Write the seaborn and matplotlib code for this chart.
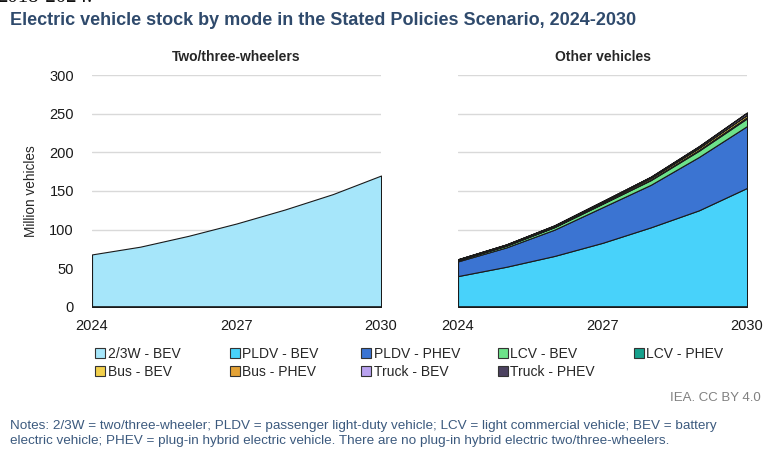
import matplotlib
matplotlib.use("Agg")
import matplotlib.pyplot as plt
import seaborn as sns
from matplotlib.patches import Patch

# data (million vehicles)
years = [2024, 2025, 2026, 2027, 2028, 2029, 2030]
w23_bev = [68, 78, 92, 108, 126, 146, 170]
pldv_bev = [40, 52, 66, 83, 103, 125, 154]
pldv_phev = [19, 25, 34, 46, 55, 69, 80]
lcv_bev = [1.5, 2.2, 3.2, 4.5, 6, 8, 10]
lcv_phev = [0.2, 0.3, 0.4, 0.6, 0.8, 1.1, 1.5]
bus_bev = [0.8, 1.0, 1.3, 1.7, 2.1, 2.6, 3.0]
bus_phev = [0.05, 0.07, 0.1, 0.15, 0.2, 0.25, 0.3]
truck_bev = [0.2, 0.3, 0.5, 0.8, 1.2, 1.8, 2.5]
truck_phev = [0.05, 0.07, 0.1, 0.15, 0.2, 0.25, 0.3]

labels = ["2/3W - BEV", "PLDV - BEV", "PLDV - PHEV", "LCV - BEV", "LCV - PHEV",
          "Bus - BEV", "Bus - PHEV", "Truck - BEV", "Truck - PHEV"]
colors = ["#a6e6fa", "#48d2fa", "#3b74d2", "#6de28a", "#16a08c",
          "#f2d04c", "#e3a236", "#b9a2ef", "#4c4260"]

sns.set_theme(style="white")
plt.rcParams["font.family"] = ["Liberation Sans", "DejaVu Sans"]

fig = plt.figure(figsize=(7.63, 4.51), dpi=100)
ax1 = fig.add_axes([0.1206, 0.3193, 0.3788, 0.5144])
ax2 = fig.add_axes([0.6003, 0.3193, 0.3788, 0.5144])

edge = dict(edgecolor="#1a1a1a", linewidth=0.8)
ax1.stackplot(years, w23_bev, colors=colors[:1], **edge)
ax2.stackplot(years, pldv_bev, pldv_phev, lcv_bev, lcv_phev, bus_bev,
              bus_phev, truck_bev, truck_phev, colors=colors[1:], **edge)

for ax, title in [(ax1, "Two/three-wheelers"), (ax2, "Other vehicles")]:
    ax.set_xlim(2024, 2030)
    ax.set_ylim(0, 300)
    ax.set_xticks([2024, 2027, 2030])
    ax.set_yticks(range(0, 301, 50))
    ax.grid(axis="y", color="#d9d9d9", linewidth=1)
    ax.set_axisbelow(True)
    for s in ax.spines.values():
        s.set_visible(False)
    ax.axhline(0, color="#1a1a1a", linewidth=1.2, zorder=5)
    ax.tick_params(axis="both", length=0, labelsize=10.5, colors="#1a1a1a")
    ax.tick_params(axis="x", pad=9)
    ax.tick_params(axis="y", pad=13)
    ax.set_title(title, fontsize=10, fontweight="bold", pad=10)

ax1.set_ylabel("Million vehicles", fontsize=9.8, labelpad=8)
ax2.tick_params(axis="y", labelleft=False)

# legend: one small legend per column so the columns sit evenly spaced
handles = [Patch(facecolor=c, edgecolor="#333333", linewidth=0.8, label=l)
           for c, l in zip(colors, labels)]
col_x = [95, 230, 361, 498, 634]
for j, x in enumerate(col_x):
    idx = [j] + ([j + 5] if j + 5 < len(labels) else [])
    fig.legend([handles[i] for i in idx], [labels[i] for i in idx],
               loc="upper left", bbox_to_anchor=(x / 763, 1 - 347 / 451),
               frameon=False, fontsize=10, handlelength=0.7, handleheight=0.7,
               handletextpad=0.2, labelspacing=0.3,
               borderaxespad=0, borderpad=0)

fig.text(0.013, 0.955, "Electric vehicle stock by mode in the Stated Policies Scenario, 2024-2030",
         fontsize=13, fontweight="bold", color="#2f4a6c", va="center")
fig.text(-0.004, 0.996, "2018-2024.", fontsize=15, family="Liberation Serif",
         color="#111111", va="baseline")
fig.text(0.997, 1 - 398 / 451, "IEA. CC BY 4.0", fontsize=9.5, color="#808080",
         ha="right", va="center")
fig.text(0.013, 1 - 420 / 451,
         "Notes: 2/3W = two/three-wheeler; PLDV = passenger light-duty vehicle; LCV = light commercial vehicle; BEV = battery\n"
         "electric vehicle; PHEV = plug-in hybrid electric vehicle. There are no plug-in hybrid electric two/three-wheelers.",
         fontsize=9.7, color="#3c5a7e", va="top", linespacing=1.3)

fig.savefig("out.png", dpi=100)
